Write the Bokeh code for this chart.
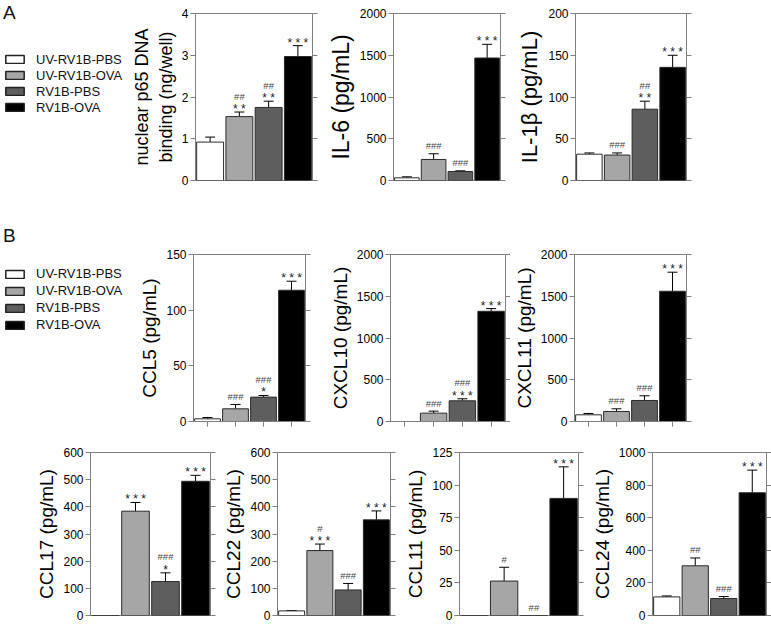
from bokeh.plotting import figure
from bokeh.layouts import row, column
from bokeh.models import (Range1d, FixedTicker, LinearAxis, Whisker, TeeHead,
                          ColumnDataSource, Legend, LegendItem, Div)
from bokeh.embed import file_html
from bokeh.resources import INLINE
from bokeh.core.properties import value

# ---------------- data ----------------
groups = ["UV-RV1B-PBS", "UV-RV1B-OVA", "RV1B-PBS", "RV1B-OVA"]
bar_colors = ["#ffffff", "#a6a6a6", "#5e5e5e", "#000000"]

p65_vals = [0.92, 1.53, 1.75, 2.97]
p65_errs = [0.12, 0.11, 0.15, 0.26]
p65_sig = ["", "**|##", "**|##", "***"]
p65_ticks = [0, 1, 2, 3, 4]

il6_vals = [32, 252, 108, 1467]
il6_errs = [12, 68, 8, 164]
il6_sig = ["", "###", "###", "***"]
il6_ticks = [0, 500, 1000, 1500, 2000]

il1b_vals = [31.5, 30.5, 85.4, 135.5]
il1b_errs = [1.5, 2.5, 9.6, 14.5]
il1b_sig = ["", "###", "**|##", "***"]
il1b_ticks = [0, 50, 100, 150, 200]

ccl5_vals = [2.4, 11.4, 21.9, 117.9]
ccl5_errs = [1.2, 3.9, 1.5, 8.1]
ccl5_sig = ["", "###", "*|###", "***"]
ccl5_ticks = [0, 50, 100, 150]

cxcl10_vals = [0, 100, 248, 1320]
cxcl10_errs = [0, 24, 24, 32]
cxcl10_sig = ["", "###", "***|###", "***"]
cxcl10_ticks = [0, 500, 1000, 1500, 2000]

cxcl11_vals = [80, 120, 252, 1560]
cxcl11_errs = [16, 32, 56, 228]
cxcl11_sig = ["", "###", "###", "***"]
cxcl11_ticks = [0, 500, 1000, 1500, 2000]

ccl17_vals = [0, 384, 125, 494]
ccl17_errs = [0, 32, 32, 22]
ccl17_sig = ["", "***", "*|###", "***"]
ccl17_ticks = [0, 100, 200, 300, 400, 500, 600]

ccl22_vals = [17, 239, 94, 352]
ccl22_errs = [1, 24, 24, 33]
ccl22_sig = ["", "***|#", "###", "***"]
ccl22_ticks = [0, 100, 200, 300, 400, 500, 600]

ccl11_vals = [0, 26.4, 0, 89.8]
ccl11_errs = [0, 10.6, 0, 24.2]
ccl11_sig = ["", "#", "##", "***"]
ccl11_ticks = [0, 25, 50, 75, 100, 125]

ccl24_vals = [114, 305, 104, 753]
ccl24_errs = [6, 48, 12, 139]
ccl24_sig = ["", "##", "###", "***"]
ccl24_ticks = [0, 200, 400, 600, 800, 1000]

# ---------------- style ----------------
FONT = "Liberation Sans"
AXIS_COLOR = "#7f7f7f"


def tick_only_axis(ax, ticks):
    """Axis that shows outward tick marks but no labels."""
    ax.ticker = FixedTicker(ticks=[], minor_ticks=ticks)
    ax.minor_tick_out = 5
    ax.minor_tick_in = 0
    ax.minor_tick_line_color = AXIS_COLOR
    ax.major_tick_out = 0
    ax.major_tick_in = 0
    ax.major_label_standoff = 0
    ax.axis_line_color = AXIS_COLOR


def panel(ylabel, vals, errs, sig, ticks, left, frame_w, right, height, top, bottom,
          label_size, xticks=False):
    p = figure(width=left + frame_w + right, height=height,
               x_range=Range1d(-0.5, 3.5), y_range=Range1d(ticks[0], ticks[-1]),
               output_backend="svg", toolbar_location=None,
               x_axis_location="below" if xticks else None,
               min_border_left=left, min_border_right=right,
               min_border_top=top, min_border_bottom=bottom)
    p.grid.visible = False
    p.outline_line_color = AXIS_COLOR
    p.outline_line_width = 1
    p.background_fill_color = "white"
    p.border_fill_color = "white"

    xs = list(range(len(vals)))
    src = ColumnDataSource(dict(x=xs, top=vals, color=bar_colors))
    p.vbar(x="x", top="top", width=0.92, fill_color="color", line_color="#2a2a2a",
           line_width=1, source=src)

    keep = [i for i in xs if errs[i] > 0]
    wsrc = ColumnDataSource(dict(x=keep, lower=[vals[i] for i in keep],
                                 upper=[vals[i] + errs[i] for i in keep]))
    p.add_layout(Whisker(base="x", lower="lower", upper="upper", source=wsrc,
                         dimension="height", line_color="black", line_width=1,
                         lower_head=None,
                         upper_head=TeeHead(size=10, line_color="black", line_width=1)))

    tx, ty, tt, toff, tsz, tcol = [], [], [], [], [], []
    for i in xs:
        if not sig[i]:
            continue
        for k, s in enumerate(sig[i].split("|")):
            tx.append(i)
            ty.append(vals[i] + errs[i])
            if s.startswith("*"):
                tt.append(" ".join(s))
                toff.append(-3 - 12 * k)
                tsz.append("12px")
                tcol.append("#222222")
            else:
                tt.append(s)
                toff.append(-8 - 8 * k)
                tsz.append("9.5px")
                tcol.append("#444444")
    tsrc = ColumnDataSource(dict(x=tx, y=ty, t=tt, off=toff, sz=tsz, col=tcol))
    p.text(x="x", y="y", text="t", y_offset="off", text_font_size="sz",
           text_color="col", text_font=value(FONT), text_align="center",
           text_baseline="alphabetic", source=tsrc)

    ax = p.yaxis[0]
    ax.ticker = FixedTicker(ticks=ticks)
    ax.axis_label = ylabel
    ax.axis_label_text_font = FONT
    ax.axis_label_text_font_size = label_size
    ax.axis_label_text_font_style = "normal"
    ax.axis_label_text_color = "black"
    ax.axis_label_standoff = 3
    ax.major_label_standoff = 2
    ax.major_label_text_font = FONT
    ax.major_label_text_font_size = "12px"
    ax.major_label_text_color = "black"
    ax.major_tick_out = 5
    ax.major_tick_in = 0
    ax.minor_tick_out = 0
    ax.minor_tick_in = 0
    ax.axis_line_color = AXIS_COLOR
    ax.major_tick_line_color = AXIS_COLOR

    ra = LinearAxis()
    tick_only_axis(ra, ticks)
    p.add_layout(ra, "right")

    if xticks:
        tick_only_axis(p.xaxis[0], xs)
    return p


def letter_div(letter, width, height, pad_top):
    return Div(text=letter, width=width, height=height, margin=0,
               styles={"font-family": FONT, "font-size": "19px", "line-height": "19px",
                       "color": "#111111", "padding-top": f"{pad_top}px",
                       "padding-left": "3px", "box-sizing": "border-box"})


def legend_fig(width, height, bottom, leg_x, leg_y, item_h):
    p = figure(width=width, height=height, x_axis_location=None, y_axis_location=None,
               toolbar_location=None, output_backend="svg",
               min_border_left=0, min_border_right=0,
               min_border_top=0, min_border_bottom=bottom,
               x_range=Range1d(-0.5, 3.5), y_range=Range1d(0, 1))
    p.outline_line_color = None
    p.grid.visible = False
    src = ColumnDataSource(dict(x=list(range(len(groups))), top=[0] * len(groups),
                                color=bar_colors))
    r = p.vbar(x="x", top="top", width=0.9, fill_color="color", line_color="#222222",
               line_width=1.5, source=src, visible=False)
    items = [LegendItem(label=g, renderers=[r], index=i) for i, g in enumerate(groups)]
    leg = Legend(items=items, location=(leg_x, leg_y), padding=0, margin=0, spacing=0,
                 glyph_width=23, glyph_height=10, label_height=item_h, label_standoff=10,
                 label_text_font=FONT, label_text_font_size="13px",
                 label_text_color="#111111",
                 label_text_baseline="middle", border_line_alpha=0,
                 background_fill_alpha=0)
    p.add_layout(leg)
    return p


RA_H, RB_H, RC_H = 200, 238, 186
LEG_W = 125
DIV_A_H, DIV_B_H = 22, 48

colA = column(letter_div("A", LEG_W, DIV_A_H, 3),
              legend_fig(LEG_W, RA_H - DIV_A_H, 20, 3, 65, 16), spacing=0)
p_p65 = panel("nuclear p65 DNA\nbinding (ng/well)", p65_vals, p65_errs, p65_sig, p65_ticks,
              70, 117, 12, RA_H, 13, 20, "18px")
p_il6 = panel("IL-6 (pg/mL)", il6_vals, il6_errs, il6_sig, il6_ticks,
              64, 112, 14, RA_H, 13, 20, "23px")
p_il1b = panel("IL-1β (pg/mL)", il1b_vals, il1b_errs, il1b_sig, il1b_ticks,
               58, 114, 85, RA_H, 13, 20, "22px")

colB = column(letter_div("B", LEG_W, DIV_B_H, 26),
              legend_fig(LEG_W, RB_H - DIV_B_H, 17, 3, 88, 17), spacing=0)
p_ccl5 = panel("CCL5 (pg/mL)", ccl5_vals, ccl5_errs, ccl5_sig, ccl5_ticks,
               68, 112, 21, RB_H, 54, 17, "19px", xticks=True)
p_cxcl10 = panel("CXCL10 (pg/mL)", cxcl10_vals, cxcl10_errs, cxcl10_sig, cxcl10_ticks,
                 62, 117, 5, RB_H, 54, 17, "19px", xticks=True)
p_cxcl11 = panel("CXCL11 (pg/mL)", cxcl11_vals, cxcl11_errs, cxcl11_sig, cxcl11_ticks,
                 63, 113, 85, RB_H, 54, 17, "19px", xticks=True)

p_ccl17 = panel("CCL17 (pg/mL)", ccl17_vals, ccl17_errs, ccl17_sig, ccl17_ticks,
                90, 120, 10, RC_H, 14, 9, "19px")
p_ccl22 = panel("CCL22 (pg/mL)", ccl22_vals, ccl22_errs, ccl22_sig, ccl22_ticks,
                53, 117, 12, RC_H, 14, 9, "19px")
p_ccl11 = panel("CCL11 (pg/mL)", ccl11_vals, ccl11_errs, ccl11_sig, ccl11_ticks,
                55, 121, 10, RC_H, 14, 9, "19px")
p_ccl24 = panel("CCL24 (pg/mL)", ccl24_vals, ccl24_errs, ccl24_sig, ccl24_ticks,
                64, 114, 5, RC_H, 14, 9, "19px")

layout = column(
    row(colA, p_p65, p_il6, p_il1b, spacing=0),
    row(colB, p_ccl5, p_cxcl10, p_cxcl11, spacing=0),
    row(p_ccl17, p_ccl22, p_ccl11, p_ccl24, spacing=0),
    spacing=0,
)

open("out.html", "w").write(file_html(layout, INLINE))
